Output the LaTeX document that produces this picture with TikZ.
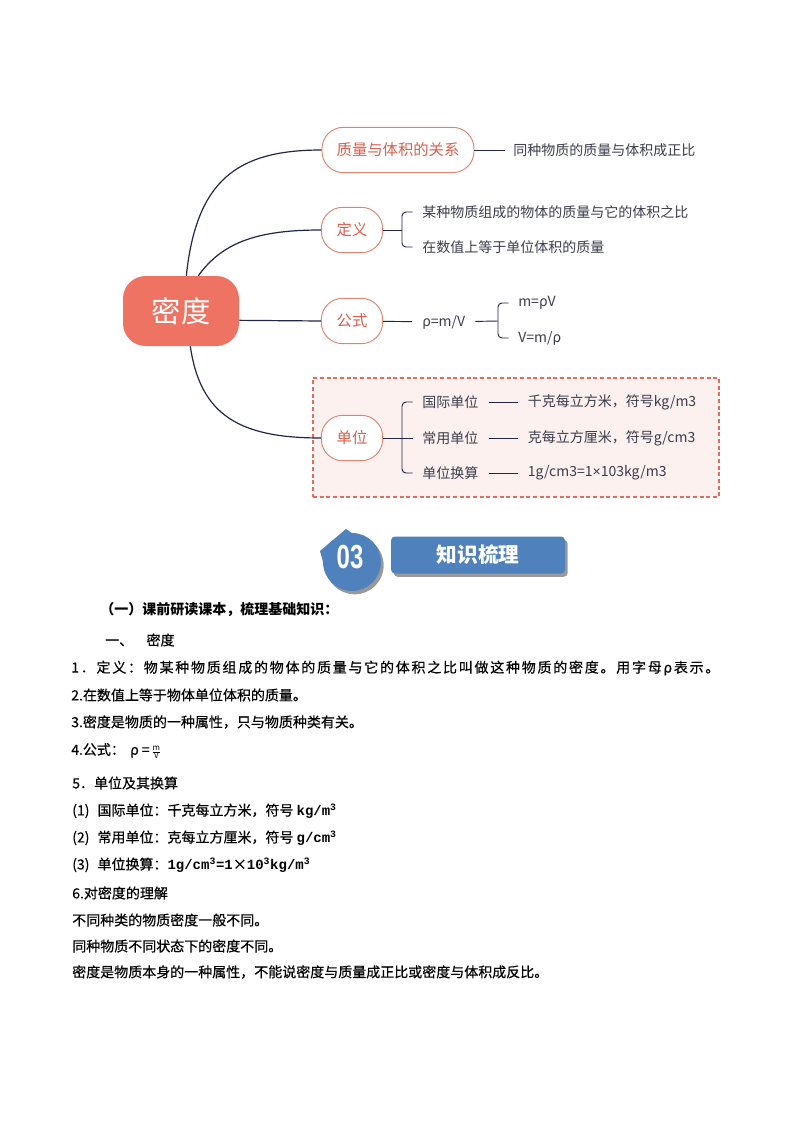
\documentclass[tikz,border=0pt]{standalone}
\usepackage{fontspec}
\setmainfont{Noto Sans CJK SC}
\newfontfamily\bodyfont{Noto Sans CJK SC}[FakeBold=0.4]
\newfontfamily\unitfont{Liberation Mono}
\newfontfamily\latinfont{Liberation Sans}
\newfontfamily\numfont{Liberation Sans}[FakeStretch=0.72]
\usetikzlibrary{positioning, shadows}

\definecolor{mdred}{RGB}{239,115,98}
\definecolor{brline}{RGB}{222,132,114}
\definecolor{brtext}{RGB}{214,96,78}
\definecolor{linkc}{RGB}{35,37,72}
\definecolor{leaftext}{RGB}{60,60,76}
\definecolor{boxline}{RGB}{222,110,95}
\definecolor{boxfill}{RGB}{253,241,239}
\definecolor{hdblue}{RGB}{79,129,189}

\begin{document}
\begin{tikzpicture}[
    x=0.75pt, y=-0.75pt,
    root/.style={rectangle, rounded corners=17pt, fill=mdred, text=white, minimum width=87pt, minimum height=52.5pt, font=\fontsize{22}{26}\selectfont},
    branch/.style={rectangle, rounded corners=16pt, draw=brline, line width=0.7pt, fill=white, text=brtext, minimum width=46pt, minimum height=34pt, inner xsep=11pt, font=\fontsize{11.5}{14}\selectfont},
    leaf/.style={inner sep=0pt, anchor=west, text=leaftext, font=\fontsize{10.5}{12}\selectfont},
    link/.style={draw=linkc, line width=0.9pt},
    twig/.style={draw=linkc, line width=0.7pt},
    unitbox/.style={rectangle, draw=boxline, fill=boxfill, line width=0.9pt, dash pattern=on 3pt off 2pt},
    tagshade/.style={drop shadow={shadow xshift=2pt, shadow yshift=-2.5pt, fill=black!40, opacity=1}},
    tagbox/.style={rectangle, rounded corners=3pt, fill=hdblue, text=white, minimum width=130.5pt, minimum height=27.75pt, tagshade, font=\fontsize{15.5}{18}\selectfont\bfseries},
    body/.style={inner sep=0pt, anchor=west, font=\fontsize{10.5}{12}\selectfont\bodyfont}
]
\useasboundingbox (0,0) rectangle (794,1123);

% --- 中心与分支 ---
\node (md) [root] at (181,311) {密度};
\node (zl) [branch] at (398,150) {质量与体积的关系};
\node (dy) [branch] at (352,230) {定义};
\node (gs) [branch] at (352,321) {公式};
\node (dwbox) [unitbox, minimum width=304.5pt, minimum height=89.25pt] at (516,437.5) {};
\node (dw) [branch] at (352,438) {单位};

% --- 主干 ---
\draw [link] ([xshift=4pt]md.north) .. controls +(10,-95) and +(-85,0) .. (zl.west);
\draw [link] ([xshift=13pt]md.north) .. controls +(25,-35) and +(-60,0) .. (dy.west);
\draw [link] ([yshift=-7pt]md.east) -- (gs.west);
\draw [link] ([xshift=7pt]md.south) .. controls +(10,70) and +(-80,0) .. (dw.west);

% --- 质量与体积的关系 ---
\node (zlt) [leaf] at (513,150) {同种物质的质量与体积成正比};
\draw [twig, shorten >=6pt] (zl) -- (zlt);

% --- 定义 ---
\node (d1) [leaf] at (422,212) {某种物质组成的物体的质量与它的体积之比};
\node (d2) [leaf] at (422,247) {在数值上等于单位体积的质量};
\coordinate (dbr) at (402,230);
\draw [twig] (dy) -- (dbr);
\draw [twig, rounded corners=3pt] ([xshift=-7pt]d1.west) -| (dbr) |- ([xshift=-7pt]d2.west);

% --- 公式 ---
\node (rho) [leaf] at (422,322) {ρ=m/V};
\draw [twig, shorten >=7.5pt] (gs) -- (rho);
\coordinate (gbr) at (498,321);
\draw [twig, shorten <=7.5pt] (rho) -- (gbr);
\node (g1) [leaf] at (518,303) {m=ρV};
\node (g2) [leaf] at (518,338) {V=m/ρ};
\draw [twig, rounded corners=3pt] ([xshift=-7pt]g1.west) -| (gbr) |- ([xshift=-7pt]g2.west);

% --- 单位 ---
\node (w1) [leaf] at (422,402) {国际单位};
\node (w2) [leaf] at (422,438) {常用单位};
\node (w3) [leaf] at (422,473) {单位换算};
\node (v1) [leaf, right=36.75pt of w1] {千克每立方米，符号kg/m3};
\node (v2) [leaf, right=36.75pt of w2] {克每立方厘米，符号g/cm3};
\node (v3) [leaf, right=36.75pt of w3] {1g/cm3=1{\latinfont ×}103kg/m3};
\coordinate (wbr) at (402,438);
\draw [twig] (dw) -- ([xshift=-7pt]w2.west);
\draw [twig, rounded corners=3pt] ([xshift=-7pt]w1.west) -| (wbr) |- ([xshift=-7pt]w3.west);
\draw [twig, shorten <=7.5pt, shorten >=7.5pt] (w1) -- (v1);
\draw [twig, shorten <=7.5pt, shorten >=7.5pt] (w2) -- (v2);
\draw [twig, shorten <=7.5pt, shorten >=7.5pt] (w3) -- (v3);

% --- 标题 03 ---
\fill [hdblue, tagshade] (352,533) arc[start angle=-90, end angle=180, radius=29] -- (320,551) -- (346,529) -- cycle;
\node (num) [text=white, font=\fontsize{25}{28}\selectfont\numfont\bfseries] at (350,557) {03};
\node (kt) [tagbox] at (478,555) {知识梳理};

% --- 正文 ---
\node (h0) [body, font=\fontsize{10.5}{12}\selectfont\bfseries] at (100,610) {（一）课前研读课本，梳理基础知识：};
\node (h1) [body] at (105,640) {一、\hspace{10pt}密度};
\node (p1) [body] at (71,668) {\addfontfeature{LetterSpace=12.5}1．定义：物某种物质组成的物体的质量与它的体积之比叫做这种物质的密度。用字母ρ表示。};
\node (p2) [body] at (71,695) {2.在数值上等于物体单位体积的质量。};
\node (p3) [body] at (71,722) {3.密度是物质的一种属性，只与物质种类有关。};
\node (p4) [body] at (71,751) {4.公式：\hspace{4pt}ρ =\hspace{1pt}\fontsize{8}{8}\selectfont$\frac{\mathrm{m}}{\mathrm{V}}$};
\node (p5) [body] at (72,783) {5．单位及其换算};
\node (p6) [body] at (72,811) {(1)\hspace{6pt}国际单位：千克每立方米，符号 {\unitfont\bfseries kg/m\textsuperscript{3}}};
\node (p7) [body] at (72,838) {(2)\hspace{6pt}常用单位：克每立方厘米，符号 {\unitfont\bfseries g/cm\textsuperscript{3}}};
\node (p8) [body] at (72,865) {(3)\hspace{6pt}单位换算：{\unitfont\bfseries 1g/cm\textsuperscript{3}=1}×{\unitfont\bfseries 10\textsuperscript{3}kg/m\textsuperscript{3}}};
\node (p9) [body] at (72,893) {6.对密度的理解};
\node (p10) [body] at (72,920) {不同种类的物质密度一般不同。};
\node (p11) [body] at (72,946) {同种物质不同状态下的密度不同。};
\node (p12) [body] at (72,972) {密度是物质本身的一种属性，不能说密度与质量成正比或密度与体积成反比。};

\end{tikzpicture}
\end{document}
